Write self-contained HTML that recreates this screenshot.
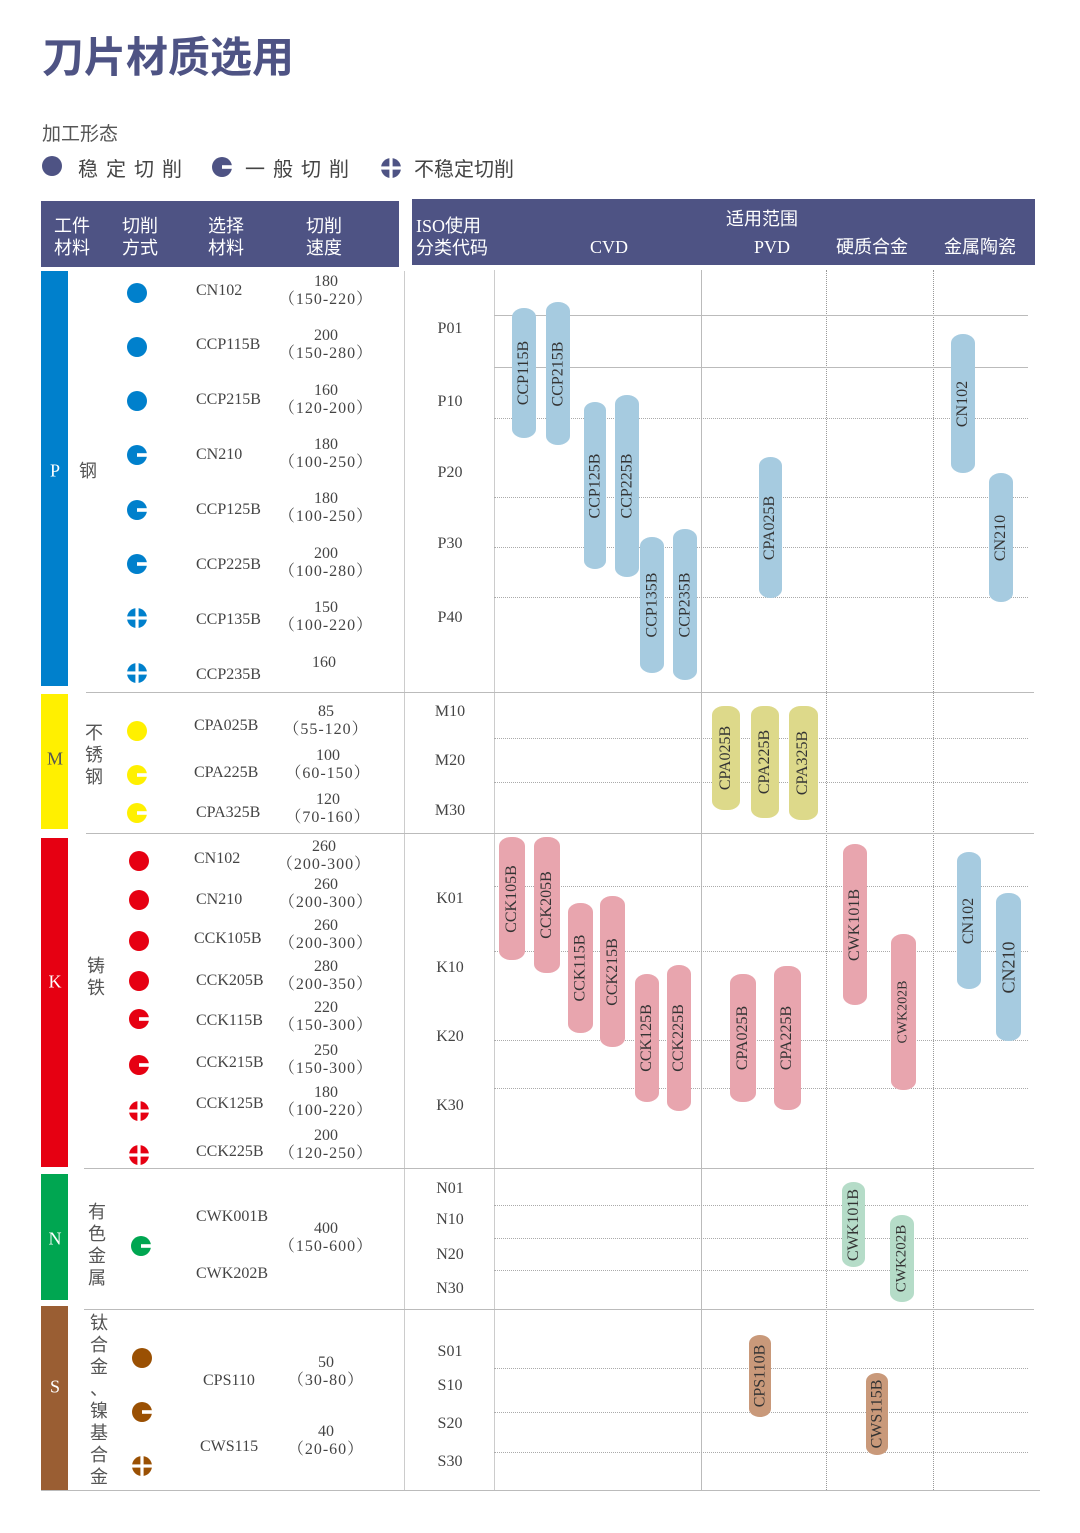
<!DOCTYPE html>
<html><head><meta charset="utf-8">
<style>
body{margin:0;background:#fff;}
#c{position:relative;width:1080px;height:1533px;overflow:hidden;font-family:"Liberation Serif","Noto Serif CJK SC",serif;color:#444;}
.a{position:absolute;}
.t{position:absolute;transform:translate(-50%,-50%);white-space:nowrap;font-size:16px;text-align:center;line-height:18px;}
.t .p{letter-spacing:1px}
.l{position:absolute;transform:translateY(-50%);white-space:nowrap;font-size:16px;}
.hl{position:absolute;height:0;border-top:1px dotted #aaa;}
.hs{position:absolute;height:0;border-top:1px solid #bbb;}
.vl{position:absolute;width:0;border-left:1px dotted #999;}
.pill{position:absolute;border-radius:12px/9px;display:flex;align-items:center;justify-content:center;}
.pill span{transform:rotate(-90deg);white-space:nowrap;font-size:16px;color:#333;}
.b{background:#a6cbe0}.y{background:#ddd98a}.k{background:#e8a5ae}.g{background:#b5dcc8}.br{background:#c9997a}
.ic{position:absolute;width:22px;height:22px;transform:translate(-50%,-50%);}
.hd{position:absolute;color:#fff;font-size:18px;line-height:22px;white-space:nowrap;font-family:"Liberation Serif","Noto Sans CJK SC",sans-serif;}
.sec{position:absolute;color:#fff;font-size:18px;transform:translate(-50%,-50%);}
.vt{position:absolute;width:20px;font-size:18px;line-height:22px;text-align:center;font-family:"Liberation Sans","Noto Sans CJK SC",sans-serif;color:#555;}
</style></head><body><div id="c">
<svg width="0" height="0" style="position:absolute">
<defs>
<g id="sol"><circle r="10"/></g>
<g id="gen"><circle r="10"/><rect x="0" y="-1.8" width="11" height="3.6" fill="#fff"/></g>
<g id="uns"><circle r="10"/><rect x="-11" y="-1.6" width="22" height="3.2" fill="#fff"/><rect x="-1.6" y="-11" width="3.2" height="22" fill="#fff"/></g>
</defs></svg>

<div class="a" style="left:42px;top:27px;font-size:42px;font-weight:bold;color:#4e5384;font-family:'Noto Sans CJK SC',sans-serif;line-height:56px;">刀片材质选用</div>
<div class="a" style="left:42px;top:119px;font-size:19px;color:#555;font-family:'Liberation Sans','Noto Sans CJK SC',sans-serif">加工形态</div>
<svg class="a" style="left:41px;top:155px" width="22" height="22" viewBox="-11 -11 22 22" fill="#4e5384"><use href="#sol"/></svg>
<div class="a" style="left:78px;top:153px;font-size:20px;color:#444;letter-spacing:8px;font-family:'Liberation Sans','Noto Sans CJK SC',sans-serif">稳定切削</div>
<svg class="a" style="left:211px;top:156px" width="22" height="22" viewBox="-11 -11 22 22" fill="#4e5384"><use href="#gen"/></svg>
<div class="a" style="left:245px;top:153px;font-size:20px;color:#444;letter-spacing:8px;font-family:'Liberation Sans','Noto Sans CJK SC',sans-serif">一般切削</div>
<svg class="a" style="left:380px;top:157px" width="22" height="22" viewBox="-11 -11 22 22" fill="#4e5384"><use href="#uns"/></svg>
<div class="a" style="left:414px;top:153px;font-size:20px;color:#444;font-family:'Liberation Sans','Noto Sans CJK SC',sans-serif">不稳定切削</div>

<!-- headers -->
<div class="a" style="left:41px;top:201px;width:358px;height:66px;background:#4e5384"></div>
<div class="a" style="left:412px;top:199px;width:623px;height:66px;background:#4e5384"></div>
<div class="hd" style="left:54px;top:215px">工件<br>材料</div>
<div class="hd" style="left:122px;top:215px">切削<br>方式</div>
<div class="hd" style="left:208px;top:215px">选择<br>材料</div>
<div class="hd" style="left:306px;top:215px">切削<br>速度</div>
<div class="hd" style="left:416px;top:215px">ISO使用<br>分类代码</div>
<div class="hd" style="left:726px;top:208px">适用范围</div>
<div class="hd" style="left:590px;top:236px">CVD</div>
<div class="hd" style="left:754px;top:236px">PVD</div>
<div class="hd" style="left:836px;top:236px">硬质合金</div>
<div class="hd" style="left:944px;top:236px">金属陶瓷</div>

<!-- section bars -->
<div class="a" style="left:41px;top:271px;width:27px;height:415px;background:#0080cc"></div>
<div class="a" style="left:41px;top:694px;width:27px;height:135px;background:#fff000"></div>
<div class="a" style="left:41px;top:838px;width:27px;height:329px;background:#e60012"></div>
<div class="a" style="left:41px;top:1174px;width:27px;height:126px;background:#00a651"></div>
<div class="a" style="left:41px;top:1306px;width:27px;height:184px;background:#9a5e33"></div>
<div class="sec" style="left:55px;top:471px">P</div>
<div class="sec" style="left:55px;top:759px;color:#555">M</div>
<div class="sec" style="left:55px;top:982px">K</div>
<div class="sec" style="left:55px;top:1239px">N</div>
<div class="sec" style="left:55px;top:1387px">S</div>

<!-- verticals -->
<div class="vl" style="left:404px;top:271px;height:1220px;border-left-style:solid;border-color:#ccc"></div>
<div class="vl" style="left:494px;top:270px;height:1220px;border-left-style:solid;border-color:#ccc"></div>
<div class="vl" style="left:701px;top:270px;height:1220px;border-left-style:solid;border-color:#bbb"></div>
<div class="vl" style="left:826px;top:270px;height:1220px"></div>
<div class="vl" style="left:933px;top:270px;height:1220px"></div>

<!-- section separators -->
<div class="hs" style="left:86px;top:692px;width:948px"></div>
<div class="hs" style="left:86px;top:833px;width:948px"></div>
<div class="hs" style="left:84px;top:1168px;width:950px"></div>
<div class="hs" style="left:84px;top:1309px;width:950px"></div>
<div class="hs" style="left:41px;top:1490px;width:999px"></div>
<!-- grid P -->
<div class="hs" style="left:494px;top:315px;width:534px"></div>
<div class="hs" style="left:494px;top:367px;width:534px"></div>
<div class="hl" style="left:494px;top:418px;width:534px"></div>
<div class="hl" style="left:494px;top:497px;width:534px"></div>
<div class="hl" style="left:494px;top:547px;width:534px"></div>
<div class="hl" style="left:494px;top:597px;width:534px"></div>
<!-- grid M -->
<div class="hl" style="left:494px;top:738px;width:534px"></div>
<div class="hl" style="left:494px;top:782px;width:534px"></div>
<!-- grid K -->
<div class="hl" style="left:494px;top:886px;width:534px"></div>
<div class="hl" style="left:494px;top:951px;width:534px"></div>
<div class="hl" style="left:494px;top:1040px;width:534px"></div>
<div class="hl" style="left:494px;top:1088px;width:534px"></div>
<!-- grid N -->
<div class="hl" style="left:494px;top:1205px;width:534px"></div>
<div class="hl" style="left:494px;top:1238px;width:534px"></div>
<div class="hl" style="left:494px;top:1270px;width:534px"></div>
<!-- grid S -->
<div class="hl" style="left:494px;top:1368px;width:534px"></div>
<div class="hl" style="left:494px;top:1412px;width:534px"></div>
<div class="hl" style="left:494px;top:1452px;width:534px"></div>

<!-- ISO labels -->
<div class="t" style="left:450px;top:329px">P01</div>
<div class="t" style="left:450px;top:402px">P10</div>
<div class="t" style="left:450px;top:473px">P20</div>
<div class="t" style="left:450px;top:544px">P30</div>
<div class="t" style="left:450px;top:618px">P40</div>
<div class="t" style="left:450px;top:712px">M10</div>
<div class="t" style="left:450px;top:761px">M20</div>
<div class="t" style="left:450px;top:811px">M30</div>
<div class="t" style="left:450px;top:899px">K01</div>
<div class="t" style="left:450px;top:968px">K10</div>
<div class="t" style="left:450px;top:1037px">K20</div>
<div class="t" style="left:450px;top:1106px">K30</div>
<div class="t" style="left:450px;top:1189px">N01</div>
<div class="t" style="left:450px;top:1220px">N10</div>
<div class="t" style="left:450px;top:1255px">N20</div>
<div class="t" style="left:450px;top:1289px">N30</div>
<div class="t" style="left:450px;top:1352px">S01</div>
<div class="t" style="left:450px;top:1386px">S10</div>
<div class="t" style="left:450px;top:1424px">S20</div>
<div class="t" style="left:450px;top:1462px">S30</div>

<!-- material labels -->
<div class="vt" style="left:78px;top:460px">钢</div>
<div class="vt" style="left:84px;top:722px">不<br>锈<br>钢</div>
<div class="vt" style="left:86px;top:955px">铸<br>铁</div>
<div class="vt" style="left:87px;top:1201px">有<br>色<br>金<br>属</div>
<div class="vt" style="left:89px;top:1312px">钛<br>合<br>金<br>、<br>镍<br>基<br>合<br>金</div>

<!-- P icons -->
<svg class="ic" style="left:137px;top:293px" viewBox="-11 -11 22 22" fill="#0080cc"><use href="#sol"/></svg>
<svg class="ic" style="left:137px;top:347px" viewBox="-11 -11 22 22" fill="#0080cc"><use href="#sol"/></svg>
<svg class="ic" style="left:137px;top:401px" viewBox="-11 -11 22 22" fill="#0080cc"><use href="#sol"/></svg>
<svg class="ic" style="left:137px;top:455px" viewBox="-11 -11 22 22" fill="#0080cc"><use href="#gen"/></svg>
<svg class="ic" style="left:137px;top:510px" viewBox="-11 -11 22 22" fill="#0080cc"><use href="#gen"/></svg>
<svg class="ic" style="left:137px;top:564px" viewBox="-11 -11 22 22" fill="#0080cc"><use href="#gen"/></svg>
<svg class="ic" style="left:137px;top:618px" viewBox="-11 -11 22 22" fill="#0080cc"><use href="#uns"/></svg>
<svg class="ic" style="left:137px;top:673px" viewBox="-11 -11 22 22" fill="#0080cc"><use href="#uns"/></svg>
<!-- M icons -->
<svg class="ic" style="left:137px;top:731px" viewBox="-11 -11 22 22" fill="#fff000"><use href="#sol"/></svg>
<svg class="ic" style="left:137px;top:775px" viewBox="-11 -11 22 22" fill="#fff000"><use href="#gen"/></svg>
<svg class="ic" style="left:137px;top:813px" viewBox="-11 -11 22 22" fill="#fff000"><use href="#gen"/></svg>
<!-- K icons -->
<svg class="ic" style="left:139px;top:861px" viewBox="-11 -11 22 22" fill="#e60012"><use href="#sol"/></svg>
<svg class="ic" style="left:139px;top:900px" viewBox="-11 -11 22 22" fill="#e60012"><use href="#sol"/></svg>
<svg class="ic" style="left:139px;top:941px" viewBox="-11 -11 22 22" fill="#e60012"><use href="#sol"/></svg>
<svg class="ic" style="left:139px;top:981px" viewBox="-11 -11 22 22" fill="#e60012"><use href="#sol"/></svg>
<svg class="ic" style="left:139px;top:1019px" viewBox="-11 -11 22 22" fill="#e60012"><use href="#gen"/></svg>
<svg class="ic" style="left:139px;top:1065px" viewBox="-11 -11 22 22" fill="#e60012"><use href="#gen"/></svg>
<svg class="ic" style="left:139px;top:1111px" viewBox="-11 -11 22 22" fill="#e60012"><use href="#uns"/></svg>
<svg class="ic" style="left:139px;top:1155px" viewBox="-11 -11 22 22" fill="#e60012"><use href="#uns"/></svg>
<!-- N -->
<svg class="ic" style="left:141px;top:1246px" viewBox="-11 -11 22 22" fill="#00a651"><use href="#gen"/></svg>
<!-- S -->
<svg class="ic" style="left:142px;top:1358px" viewBox="-11 -11 22 22" fill="#9a5003"><use href="#sol"/></svg>
<svg class="ic" style="left:142px;top:1412px" viewBox="-11 -11 22 22" fill="#9a5003"><use href="#gen"/></svg>
<svg class="ic" style="left:142px;top:1466px" viewBox="-11 -11 22 22" fill="#9a5003"><use href="#uns"/></svg>

<!-- names -->
<div class="l" style="left:196px;top:291px">CN102</div>
<div class="l" style="left:196px;top:345px">CCP115B</div>
<div class="l" style="left:196px;top:400px">CCP215B</div>
<div class="l" style="left:196px;top:455px">CN210</div>
<div class="l" style="left:196px;top:510px">CCP125B</div>
<div class="l" style="left:196px;top:565px">CCP225B</div>
<div class="l" style="left:196px;top:620px">CCP135B</div>
<div class="l" style="left:196px;top:675px">CCP235B</div>
<div class="l" style="left:194px;top:726px">CPA025B</div>
<div class="l" style="left:194px;top:773px">CPA225B</div>
<div class="l" style="left:196px;top:813px">CPA325B</div>
<div class="l" style="left:194px;top:859px">CN102</div>
<div class="l" style="left:196px;top:900px">CN210</div>
<div class="l" style="left:194px;top:939px">CCK105B</div>
<div class="l" style="left:196px;top:981px">CCK205B</div>
<div class="l" style="left:196px;top:1021px">CCK115B</div>
<div class="l" style="left:196px;top:1063px">CCK215B</div>
<div class="l" style="left:196px;top:1104px">CCK125B</div>
<div class="l" style="left:196px;top:1152px">CCK225B</div>
<div class="l" style="left:196px;top:1217px">CWK001B</div>
<div class="l" style="left:196px;top:1274px">CWK202B</div>
<div class="l" style="left:203px;top:1381px">CPS110</div>
<div class="l" style="left:200px;top:1447px">CWS115</div>

<!-- speeds -->
<div class="t" style="left:326px;top:291px">180<br><span class="p">（150-220）</span></div>
<div class="t" style="left:326px;top:345px">200<br><span class="p">（150-280）</span></div>
<div class="t" style="left:326px;top:400px">160<br><span class="p">（120-200）</span></div>
<div class="t" style="left:326px;top:454px">180<br><span class="p">（100-250）</span></div>
<div class="t" style="left:326px;top:508px">180<br><span class="p">（100-250）</span></div>
<div class="t" style="left:326px;top:563px">200<br><span class="p">（100-280）</span></div>
<div class="t" style="left:326px;top:617px">150<br><span class="p">（100-220）</span></div>
<div class="t" style="left:324px;top:663px">160</div>
<div class="t" style="left:326px;top:721px">85<br><span class="p">（55-120）</span></div>
<div class="t" style="left:328px;top:765px">100<br><span class="p">（60-150）</span></div>
<div class="t" style="left:328px;top:809px">120<br><span class="p">（70-160）</span></div>
<div class="t" style="left:324px;top:856px">260<br><span class="p">（200-300）</span></div>
<div class="t" style="left:326px;top:894px">260<br><span class="p">（200-300）</span></div>
<div class="t" style="left:326px;top:935px">260<br><span class="p">（200-300）</span></div>
<div class="t" style="left:326px;top:976px">280<br><span class="p">（200-350）</span></div>
<div class="t" style="left:326px;top:1017px">220<br><span class="p">（150-300）</span></div>
<div class="t" style="left:326px;top:1060px">250<br><span class="p">（150-300）</span></div>
<div class="t" style="left:326px;top:1102px">180<br><span class="p">（100-220）</span></div>
<div class="t" style="left:326px;top:1145px">200<br><span class="p">（120-250）</span></div>
<div class="t" style="left:326px;top:1238px">400<br><span class="p">（150-600）</span></div>
<div class="t" style="left:326px;top:1372px">50<br><span class="p">（30-80）</span></div>
<div class="t" style="left:326px;top:1441px">40<br><span class="p">（20-60）</span></div>

<!-- pills -->
<div class="pill b" style="left:512px;top:308px;width:24px;height:130px"><span>CCP115B</span></div>
<div class="pill b" style="left:546px;top:302px;width:24px;height:143px"><span>CCP215B</span></div>
<div class="pill b" style="left:584px;top:402px;width:22px;height:167px"><span>CCP125B</span></div>
<div class="pill b" style="left:615px;top:395px;width:24px;height:182px"><span>CCP225B</span></div>
<div class="pill b" style="left:640px;top:537px;width:24px;height:136px"><span>CCP135B</span></div>
<div class="pill b" style="left:673px;top:529px;width:24px;height:151px"><span>CCP235B</span></div>
<div class="pill b" style="left:759px;top:457px;width:23px;height:141px"><span>CPA025B</span></div>
<div class="pill b" style="left:951px;top:334px;width:24px;height:139px"><span>CN102</span></div>
<div class="pill b" style="left:989px;top:473px;width:24px;height:129px"><span>CN210</span></div>

<div class="pill y" style="left:712px;top:706px;width:28px;height:104px"><span>CPA025B</span></div>
<div class="pill y" style="left:751px;top:706px;width:28px;height:112px"><span>CPA225B</span></div>
<div class="pill y" style="left:789px;top:706px;width:29px;height:114px"><span>CPA325B</span></div>

<div class="pill k" style="left:499px;top:837px;width:26px;height:123px"><span>CCK105B</span></div>
<div class="pill k" style="left:534px;top:837px;width:26px;height:136px"><span>CCK205B</span></div>
<div class="pill k" style="left:568px;top:903px;width:25px;height:130px"><span>CCK115B</span></div>
<div class="pill k" style="left:600px;top:896px;width:25px;height:151px"><span>CCK215B</span></div>
<div class="pill k" style="left:635px;top:974px;width:24px;height:128px"><span>CCK125B</span></div>
<div class="pill k" style="left:667px;top:965px;width:24px;height:146px"><span>CCK225B</span></div>
<div class="pill k" style="left:730px;top:974px;width:26px;height:128px"><span>CPA025B</span></div>
<div class="pill k" style="left:774px;top:966px;width:27px;height:144px"><span>CPA225B</span></div>
<div class="pill k" style="left:843px;top:844px;width:24px;height:161px"><span>CWK101B</span></div>
<div class="pill k" style="left:891px;top:934px;width:25px;height:156px"><span style="font-size:14px">CWK202B</span></div>
<div class="pill b" style="left:957px;top:852px;width:24px;height:137px"><span>CN102</span></div>
<div class="pill b" style="left:996px;top:893px;width:25px;height:148px"><span style="font-size:18px">CN210</span></div>

<div class="pill g" style="left:842px;top:1182px;width:23px;height:85px"><span>CWK101B</span></div>
<div class="pill g" style="left:890px;top:1215px;width:24px;height:87px"><span style="font-size:15px">CWK202B</span></div>

<div class="pill br" style="left:749px;top:1335px;width:22px;height:82px"><span>CPS110B</span></div>
<div class="pill br" style="left:866px;top:1373px;width:22px;height:82px"><span>CWS115B</span></div>
</div></body></html>
